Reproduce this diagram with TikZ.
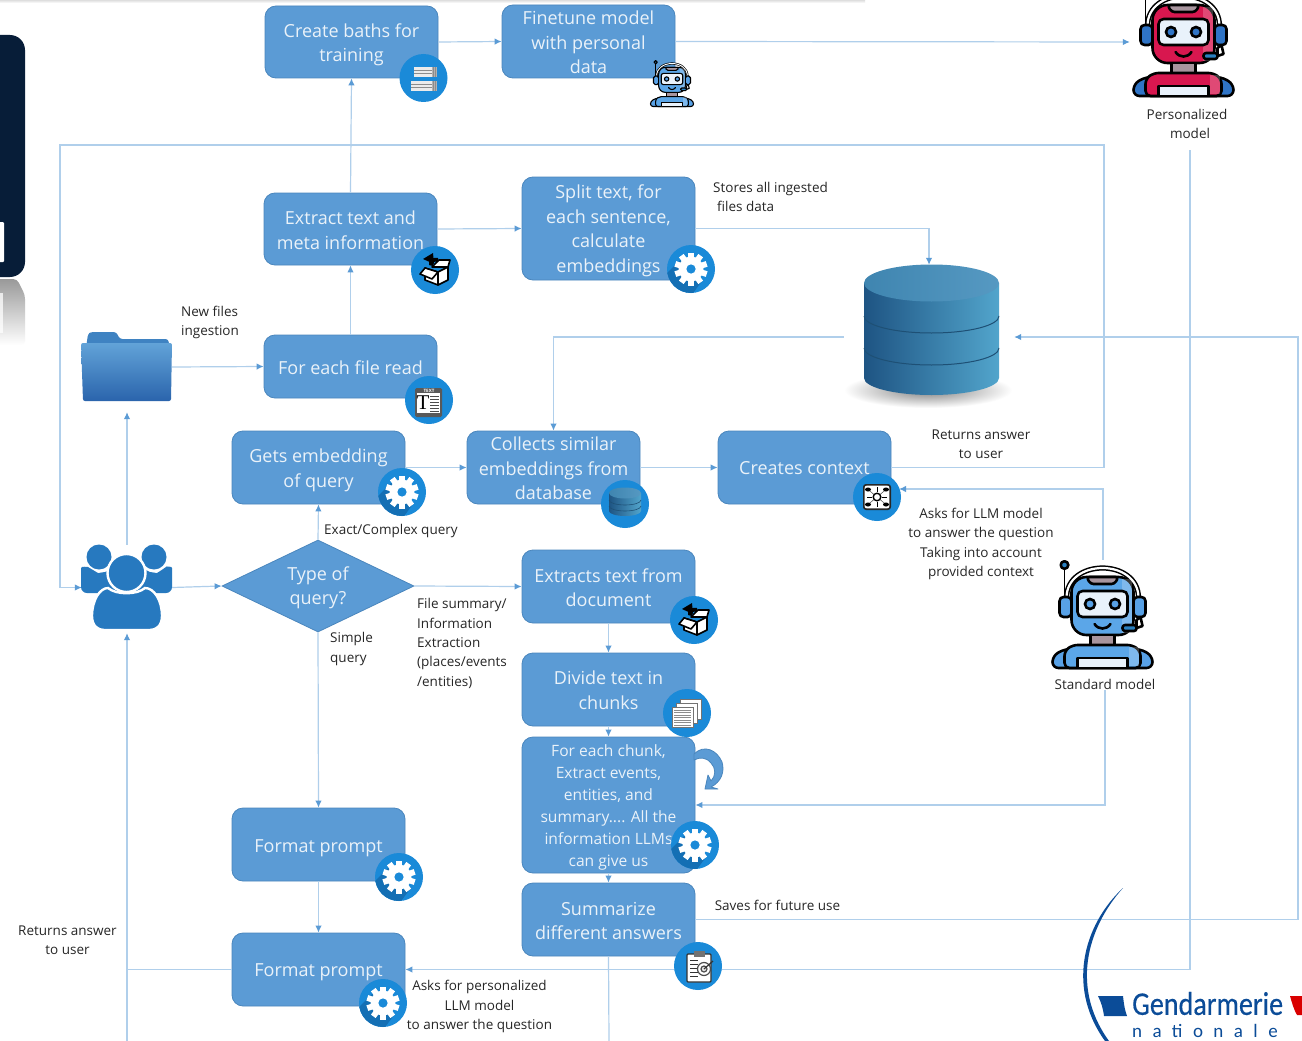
\documentclass[tikz,border=0pt]{standalone}
\usepackage{fontspec}
\setmainfont{Open Sans}
\newfontfamily\natfont[LetterSpace=55]{Carlito}
\newfontfamily\genfont[FakeBold=0.4]{Carlito}
\newfontfamily\serifico{Liberation Serif}
\usetikzlibrary{arrows.meta,calc,shapes.geometric}
\definecolor{boxfill}{HTML}{5B9BD5}
\definecolor{boxline}{HTML}{4A86BD}
\definecolor{linkc}{HTML}{B0CFEB}
\definecolor{tipc}{HTML}{5B9BD5}
\definecolor{iconblue}{HTML}{1A8AD8}
\definecolor{icondark}{HTML}{146FB4}
\definecolor{boxtext}{HTML}{EAF2F9}
\definecolor{logoblue}{HTML}{0B4C98}
\definecolor{navy}{HTML}{071D38}
\definecolor{usersblue}{HTML}{2779BF}
\definecolor{dbL}{HTML}{1E5483}
\definecolor{dbR}{HTML}{52A5CC}
\definecolor{dbTL}{HTML}{3F85B0}
\definecolor{dbTR}{HTML}{5699C2}
\definecolor{dbLine}{HTML}{1E5075}
\definecolor{rbRed}{HTML}{D8174F}
\definecolor{rbBlue}{HTML}{2F74C6}
\definecolor{stdMain}{HTML}{5BA6E8}
\definecolor{stdEar}{HTML}{58A1E6}
\definecolor{rbWin}{HTML}{E9F2FB}
\definecolor{rbNeck}{HTML}{A8959E}
\definecolor{micBlue}{HTML}{2A80C0}
\definecolor{folderT}{HTML}{62A3D8}
\definecolor{folderB}{HTML}{2A64AC}
\definecolor{folderBack}{HTML}{3F83C2}
\tikzset{
  x=1pt,y=-1pt,
  flowbox/.style={draw=boxline,line width=0.8pt,fill=boxfill,rounded corners=11pt,inner sep=0pt,minimum width=173pt},
  boxlabel/.style={text=boxtext,align=center,font=\fontsize{18}{24.5}\selectfont,inner sep=0pt},
  smalllabel/.style={boxlabel,font=\fontsize{15.6}{22}\selectfont},
  decision/.style={diamond,aspect=2.09,fill=boxfill,draw=boxline,line width=0.8pt,inner sep=0pt,minimum width=192pt,minimum height=92pt},
  lab/.style={align=center,font=\fontsize{13.5}{19.3}\selectfont,text=black!85,inner sep=0pt},
  lableft/.style={lab,align=left,anchor=north west},
  link/.style={draw=linkc,line width=1.2pt},
  flow/.style={link,-{Latex[color=tipc,length=7pt,width=6.5pt]}},
  ghost/.style={inner sep=0pt,draw=none,fill=none},
  disc/.style={circle,fill=iconblue,minimum size=48pt,inner sep=0pt},
  gearic/.pic={
    \begin{scope}
      \clip (0,0) circle (24);
      \fill[icondark] (-11,-9) -- (-40,20) -- (-14,46) -- (11,12) -- cycle;
    \end{scope}
    \fill[white] (0,0) circle (12.5);
    \foreach \a in {0,36,...,324}{\fill[white,rotate=\a] (-2.9,-16.5) rectangle (2.9,0);}
    \fill[iconblue] (0,0) circle (4.6);
  },
  boxic/.pic={
    \draw[black,line width=1.6pt,fill=white,line join=round] (-10,-2) -- (3,2) -- (3,15) -- (-10,10) -- cycle;
    \draw[black,line width=1.6pt,fill=white,line join=round] (3,2) -- (13,-3) -- (13,10) -- (3,15) -- cycle;
    \draw[black,line width=1.6pt,fill=white,line join=round] (-10,-2) -- (-15,4) -- (-3,9) -- (3,2) -- cycle;
    \draw[black,line width=1.6pt,fill=white,line join=round] (13,-3) -- (15,-10) -- (4,-10) -- (-3,-3) -- cycle;
    \fill[black] (-6,-5) .. controls (-7,-11) and (-3,-13) .. (3,-12) -- (3,-8) .. controls (-1,-9) and (-3,-8) .. (-2,-4) -- cycle;
    \fill[black] (-12,-11) -- (-2,-17) -- (-1,-6) -- cycle;
  },
  texic/.pic={
    \fill[black!65,rounded corners=1.5pt] (-14,-12) rectangle (13,17);
    \fill[white] (-12,-7) rectangle (11,13);
    \node[ghost,text=white,font=\fontsize{4.5}{5}\selectfont\bfseries] at (0,-9.5) {TEXT};
    \node[ghost,text=black,font=\serifico\fontsize{21}{21}\selectfont] at (-6,3) {T};
    \foreach \yy in {-4,-1,2,5,8,11}{\draw[black!70,line width=1pt] (1,\yy) -- (10,\yy);}
  },
  batchic/.pic={
    \foreach \yy/\xa in {-6/-10,8/-13}{
      \fill[black!8] (\xa,\yy-5) rectangle (13,\yy+5);
      \fill[black!30] (8,\yy-5) rectangle (13,\yy+5);
      \draw[black!45,line width=0.6pt] (\xa,\yy-1.5) -- (8,\yy-1.5) (\xa,\yy+1.5) -- (8,\yy+1.5) (10,\yy-5) -- (10,\yy+5) (11.7,\yy-5) -- (11.7,\yy+5);
    }
  },
  dbic/.pic={
    \shade[left color=dbL,right color=dbR] (-16,-11) -- (16,-11) -- (16,7) arc[start angle=0,end angle=180,x radius=16,y radius=5] -- cycle;
    \draw[dbLine,line width=0.6pt] (-16,-4) arc[start angle=180,end angle=0,x radius=16,y radius=5];
    \draw[dbLine,line width=0.6pt] (-16,2) arc[start angle=180,end angle=0,x radius=16,y radius=5];
    \shade[left color=dbTL,right color=dbTR] (0,-11) ellipse (16 and 5.5);
  },
  netic/.pic={
    \fill[black!85,rounded corners=3pt] (-14,-13) rectangle (14,13);
    \fill[white,rounded corners=2pt] (-12.3,-11.3) rectangle (12.3,11.3);
    \foreach \px/\py in {-9/-7.5,9/-7.5,-9/7.5,9/7.5}{
      \draw[black!70,line width=0.5pt] (0,0) -- (\px,\py);
      \fill[black] (\px,\py) ellipse (3 and 2);}
    \foreach \a in {0,90,180,270}{\draw[black,line width=0.5pt,rotate=\a] (0,-5) -- (0,-10);}
    \draw[black,line width=1.4pt,fill=white] (0,0) circle (3.8);
  },
  pagesic/.pic={
    \foreach \d in {8,4,0}{
      \draw[black!55,fill=white,line width=0.8pt] (-15+\d,-6-\d) rectangle (6+\d,14-\d);}
    \foreach \yy in {-3,-0.5,2,4.5,7,9.5,12}{\draw[black!45,line width=0.8pt] (-13,\yy) -- (4,\yy);}
  },
  reportic/.pic={
    \draw[black!80,line width=1.3pt,fill=white,rounded corners=1pt] (-11,-12) rectangle (13,16);
    \fill[black!55] (-4,-15) rectangle (7,-9);
    \foreach \yy in {-6,-2,2,6,10}{\draw[black!80,line width=1pt] (-8,\yy) -- (0,\yy);}
    \draw[black!70,line width=1.2pt,fill=white] (6,3) circle (6.5);
    \draw[black!70,line width=1.2pt,fill=black!10] (6,3) circle (3);
    \draw[black!80,line width=1.2pt] (6,3) -- (15,-5);
  },
  pics/robotic/.style n args={4}{code={
    \colorlet{rmain}{#2}\colorlet{rear}{#3}
    \tikzset{rk/.style={draw=black,line width=#1*2.6pt,line join=round}}
    \draw[black,line width=#1*1.8pt] (-38,-39) -- (-38,0);
    \draw[rk,fill=#4] (-38,-39) circle (3.8);
    \draw[black,line width=#1*5.2pt] (-36,-6) .. controls (-36,-46) and (36,-46) .. (36,-6);
    \draw[white,line width=#1*2.2pt] (-36,-6) .. controls (-36,-46) and (36,-46) .. (36,-6);
    \draw[rk,fill=rear,rounded corners=#1*4pt] (-43,-7) rectangle (-31,13);
    \draw[rk,fill=rear,rounded corners=#1*4pt] (31,-7) rectangle (43,13);
    \draw[rk,fill=white] (38,13) -- (40,22) -- (34,24) -- (34,16) -- cycle;
    \draw[rk,fill=rmain,rounded corners=#1*15pt] (-31,-27) rectangle (31,31);
    \fill[white,opacity=0.22] (19,-25) rectangle (29.5,29);
    \draw[rk,fill=rbNeck,rounded corners=#1*3pt] (-16,-27) -- (16,-27) -- (12,-20) -- (-12,-20) -- cycle;
    \draw[rk,fill=rbWin,rounded corners=#1*5pt] (-25,-13) rectangle (25,13);
    \draw[black,line width=#1*2.6pt,fill=rear] (-12.5,0) circle (5);
    \draw[black,line width=#1*2.6pt,fill=rear] (12.5,0) circle (5);
    \draw[black,line width=#1*2.6pt,line cap=round] (-8,20) .. controls (-4,26) and (4,26) .. (8,20);
    \draw[rk,fill=micBlue,rounded corners=#1*2.5pt] (20,21) rectangle (34,27);
    \draw[rk,fill=rbNeck] (-12,31) rectangle (12,41);
    \draw[rk,fill=rear,rounded corners=#1*6pt] (-50,64) -- (-50,52) -- (-38,45) -- (38,45) -- (50,52) -- (50,64) -- cycle;
    \draw[rk,fill=rmain,rounded corners=#1*5pt] (-38,64) -- (-38,47) -- (-30,41) -- (30,41) -- (38,47) -- (38,64) -- cycle;
    \fill[white,opacity=0.22] (26,43) rectangle (36,62);
    \draw[rk,fill=rbWin] (-25,64) -- (-25,54) -- (25,54) -- (25,64) -- cycle;
  }}
}
% box with its caption: name, x, y, height, caption drop, caption
\newcommand\flownode[6]{%
  \node[flowbox,minimum height=#4pt] (#1) at (#2,#3) {};
  \node[boxlabel] (#1T) at ($(#1.center)+(0,#5)$) {#6};}
\begin{document}
\begin{tikzpicture}
\useasboundingbox (0,0) rectangle (1302,1041);
\clip (0,0) rectangle (1302,1041);
\fill[white] (0,0) rectangle (1302,1041);
% top fringe and left fragment
\shade[top color=black!13,bottom color=white] (0,0) rectangle (865,3);
\shade[top color=black!40,bottom color=white,rounded corners=4pt] (-30,279) -- (17,279) -- (25,295) -- (25,345) -- (-30,345) -- cycle;
\fill[white,opacity=0.75] (-5,293) rectangle (3,333);
\fill[navy,rounded corners=15pt] (-30,35) rectangle (25,277);
\fill[white,rounded corners=1pt] (-5,222) rectangle (4,262);

% named anchors
\node[ghost,minimum width=170pt,minimum height=144pt] (db) at (929,337) {};
\node[ghost,minimum width=90pt,minimum height=85pt] (user) at (127,587.5) {};
\node[ghost,minimum width=90pt,minimum height=70pt] (folder) at (127,367) {};
\node[ghost,minimum width=107pt,minimum height=110pt] (persRobot) at (1183.5,42) {};
\node[ghost,minimum width=102pt,minimum height=108pt] (stdRobot) at (1103,614) {};
\node[lab] (persLabel) at (1187,124) {Personalized\\ \hspace*{6pt}model};
\node[lab] (stdLabel) at (1105,684.5) {Standard model};

% boxes
\flownode{baths}{351.5}{42}{72}{3}{Create baths for\\ training}
\flownode{fine}{588.5}{41.5}{73}{1}{Finetune model\\ with personal\\ data}
\flownode{extract}{350.5}{229}{72}{1}{Extract text and\\ meta information}
\flownode{split}{608.5}{228.5}{103}{2.5}{Split text, for\\ each sentence,\\ calculate\\ embeddings}
\flownode{fileread}{350.5}{366.5}{63}{1}{For each file read}
\flownode{embed}{318.5}{467.5}{73}{3}{Gets embedding\\ of query}
\flownode{collect}{553.5}{467.5}{73}{1}{Collects similar\\ embeddings from\\ database}
\flownode{context}{804.5}{467.5}{73}{1}{Creates context}
\node[decision] (query) at (318,586) {};
\node[boxlabel] (queryT) at ($(query.center)+(0,2)$) {Type of\\ query?};
\flownode{extdoc}{608.5}{586.5}{73}{1}{Extracts text from\\ document}
\flownode{divide}{608.5}{689.5}{73}{0.5}{Divide text in\\ chunks}
\node[flowbox,minimum height=136pt] (chunk) at (608.5,805) {};
\node[smalllabel] (chunkT) at ($(chunk.center)+(0,2.5)$) {For each chunk,\\ Extract events,\\ entities, and\\ summary.... All the\\ information LLMs\\ can give us};
\flownode{fmtA}{318.5}{844.5}{73}{3.5}{Format prompt}
\flownode{fmtB}{318.5}{969.5}{73}{3}{Format prompt}
\flownode{summ}{608.5}{919.5}{73}{1.5}{Summarize\\ different answers}

% free ends and corners
\coordinate (loopR) at (1104,145);
\coordinate (loopL) at (60,145);
\coordinate (ctxIn) at (899,489);
\coordinate (persOut) at (1190,150);
\coordinate (rightC) at (1298,337);
\coordinate (bottomC) at (609,1041);
\coordinate (userBottom) at (127,1041);
\coordinate (fmtLeft) at (127,969.5);
\coordinate (stdOut) at (1103,489);

% connectors
\draw[flow] (baths.east) -- (fine.west);
\draw[flow] (fine.east) -- (persRobot.west);
\draw[flow] (extract.north) -- (baths.south);
\draw[flow] (fileread.north) -- (extract.south);
\draw[flow] (extract.east) -- (split.west);
\draw[flow] (split.east) -| (db.north);
\draw[flow] (folder.east) -- (fileread.west);
\draw[flow,shorten >=10pt] (user.north) -- (folder.south);
\draw[flow] (user.east) -- (query.west);
\draw[flow] (query.north) -- (embed.south);
\draw[flow] (query.east) -- (extdoc.west);
\draw[flow] (query.south) -- (fmtA.north);
\draw[flow] (fmtA.south) -- (fmtB.north);
\draw[flow] (embed.east) -- (collect.west);
\draw[flow] (collect.east) -- (context.west);
\draw[flow] (db.west) -| (collect.north);
\draw[flow] (context.east) -| (loopR) -- (loopL) |- (user.west);
\draw[flow] (stdRobot.north) -- (stdOut) -- (ctxIn);
\draw[flow] (stdLabel.south) |- (chunk.east);
\draw[flow] (persOut) |- (fmtB.east);
\draw[flow] (summ.east) -| (rightC) -- (db.east);
\draw[flow] (extdoc.south) -- (divide.north);
\draw[flow] (divide.south) -- (chunk.north);
\draw[flow] (chunk.south) -- (summ.north);
\draw[link] (summ.south) -- (bottomC);
\draw[link] (fmtB.west) -- (fmtLeft);
\draw[flow,shorten >=3pt] (userBottom) -- (user.south);

% icon discs
\node[disc] (icBaths) at (423.5,78) {}; \pic at (icBaths) {batchic};
\node[disc] (icExtract) at (435,270) {}; \pic at (icExtract) {boxic};
\node[disc] (icSplit) at (691,269) {}; \pic at (icSplit) {gearic};
\node[disc] (icRead) at (429,400) {}; \pic at (icRead) {texic};
\node[disc] (icEmbed) at (402,492) {}; \pic at (icEmbed) {gearic};
\node[disc] (icCollect) at (625,504) {}; \pic at (icCollect) {dbic};
\node[disc] (icContext) at (877,497) {}; \pic at (icContext) {netic};
\node[disc] (icDoc) at (694,620) {}; \pic at (icDoc) {boxic};
\node[disc] (icDivide) at (687,713) {}; \pic at (icDivide) {pagesic};
\node[disc] (icChunk) at (695,845) {}; \pic at (icChunk) {gearic};
\node[disc] (icFmtA) at (399,877) {}; \pic at (icFmtA) {gearic};
\node[disc] (icFmtB) at (383,1003) {}; \pic at (icFmtB) {gearic};
\node[disc] (icSumm) at (698,966) {}; \pic at (icSumm) {reportic};

% curved loop arrow at chunk box
\draw[fill=boxfill,draw=boxline,line width=0.8pt,line join=round]
  (694,754) .. controls (704,744) and (717,750) .. (722,762)
  .. controls (725,772) and (721,782) .. (711,787) -- (718,789) -- (705,789) -- (708,775) -- (711,781)
  .. controls (716,776) and (716,768) .. (711,763) .. controls (706,757) and (700,757) .. (694,760) -- cycle;

% robots
\pic at (1183.5,32) {robotic={1}{rbRed}{rbBlue}{white}};
\pic at (1102.5,604) {robotic={1}{stdMain}{stdEar}{micBlue}};
\pic[scale=0.43] at (672,79) {robotic={0.43}{stdMain}{stdEar}{micBlue}};

% folder
\fill[folderBack,rounded corners=2.5pt] (86,348) -- (88,334) -- (91,332) -- (116,332) -- (120,339) -- (168,339) -- (170,348) -- cycle;
\shade[top color=folderT,bottom color=folderB,rounded corners=2pt] (81,343) -- (172,343) -- (171,401) -- (83,401) -- cycle;

% database
\shade[inner color=black!50,outer color=white] (928,390) ellipse (84 and 18);
\shade[left color=dbL,right color=dbR]
  (864,283) -- (864,378) arc[start angle=180,end angle=0,x radius=67.5,y radius=17] -- (999,283) -- cycle;
\foreach \yy in {316,348}{
  \draw[dbLine,line width=1pt] (864,\yy) arc[start angle=180,end angle=0,x radius=67.5,y radius=17];}
\shade[left color=dbTL,right color=dbTR] (931.5,283) ellipse (67.5 and 18.5);

% users
\fill[usersblue] (99,557) circle (12.5) (154,557) circle (12.5);
\fill[usersblue,rounded corners=6pt] (81,593) -- (81,574) .. controls (81,566) and (88,567) .. (93,570) .. controls (98,573) and (105,572) .. (110,569) -- (145,569) .. controls (150,572) and (157,573) .. (162,570) .. controls (166,567) and (172,566) .. (172,574) -- (172,593) -- cycle;
\draw[white,line width=2.4pt,fill=usersblue] (126.5,573) circle (19);
\draw[white,line width=2.4pt,fill=usersblue] (92,616) .. controls (92,600) and (100,588) .. (108,588) .. controls (116,595) and (137,595) .. (145,588) .. controls (154,588) and (162,600) .. (162,616) .. controls (162,626) and (156,630) .. (150,630) -- (104,630) .. controls (98,630) and (92,626) .. (92,616) -- cycle;

% labels
\node[lableft] (lbStores) at (713,182) {Stores all ingested\\ \hspace*{4pt}files data};
\node[lableft] (lbNew) at (181,306) {New files\\ ingestion};
\node[lab] (lbReturnsA) at (981,444.5) {Returns answer\\ to user};
\node[lab] (lbAsks) at (981,544) {Asks for LLM model\\ to answer the question\\ Taking into account\\ provided context};
\node[lableft] (lbExact) at (324,524.5) {Exact/Complex query};
\node[lableft] (lbFile) at (417,598.5) {File summary/\\ Information\\ Extraction\\ (places/events\\ /entities)};
\node[lableft] (lbSimple) at (330,632.5) {Simple\\ query};
\node[lab] (lbSaves) at (777.5,905) {Saves for future use};
\node[lab] (lbReturnsB) at (67.5,940.5) {Returns answer\\ to user};
\node[lab] (lbPers) at (479.5,1006.5) {Asks for personalized\\ LLM model\\ to answer the question};

% logo
\fill[logoblue] (1123,888) .. controls (1083,925) and (1065,990) .. (1108,1045) -- (1112,1045) .. controls (1069,990) and (1087,928) .. (1123,888) -- cycle;
\fill[logoblue] (1098,996) -- (1123,996) .. controls (1124,1005) and (1125,1011) .. (1127,1016) -- (1104,1016) .. controls (1103,1008) and (1101,1002) .. (1098,996) -- cycle;
\fill[red!85!black] (1290,996) -- (1302,996) -- (1302,1015) -- (1297,1015) .. controls (1294,1010) and (1292,1003) .. (1290,996) -- cycle;
\node[ghost,anchor=west,text=logoblue] (logoA) at (1132,1003.5) {\genfont\fontsize{33}{33}\selectfont\scalebox{0.85}[1]{Gendarmerie}};
\node[ghost,anchor=west,text=logoblue] (logoB) at (1132,1030.5) {\natfont\fontsize{19}{19}\selectfont nationale};
\end{tikzpicture}
\end{document}
